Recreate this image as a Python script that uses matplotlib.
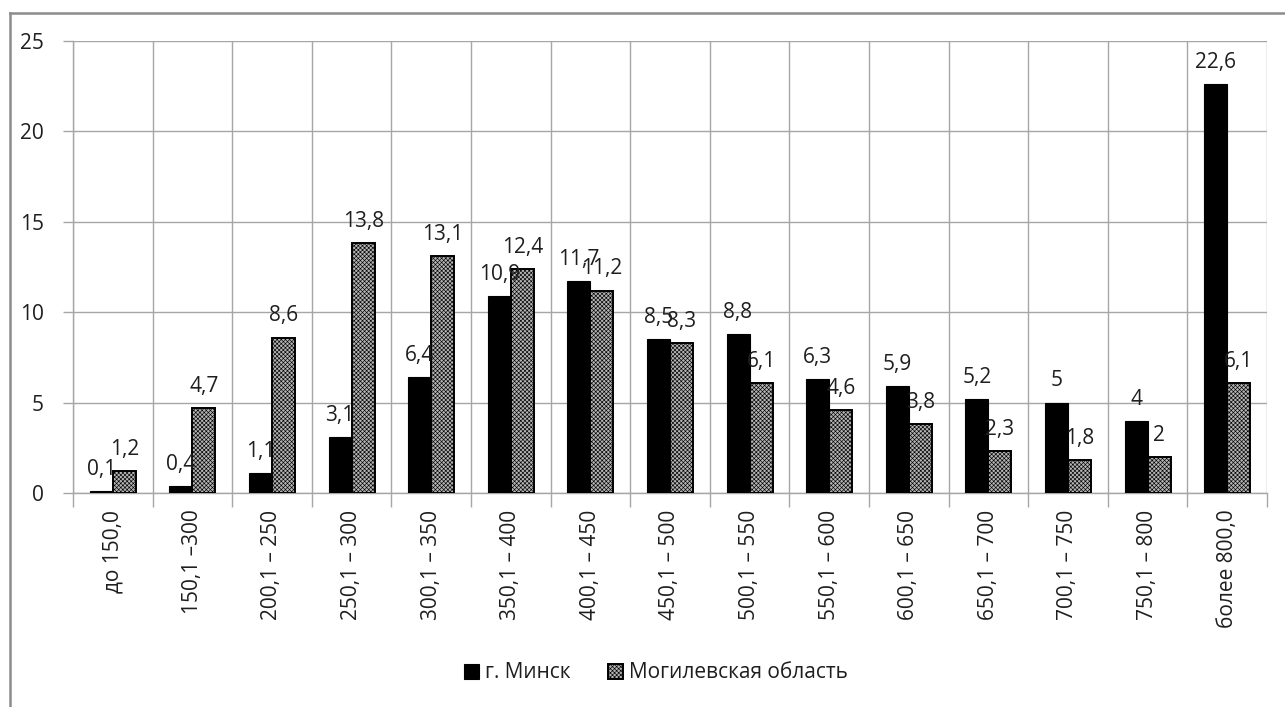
import matplotlib.pyplot as plt
import numpy as np
from matplotlib.lines import Line2D

plt.rcParams['font.family'] = ['Open Sans', 'DejaVu Sans']
plt.rcParams['hatch.linewidth'] = 0.45

categories = ["до 150,0", "150,1 –300", "200,1 – 250", "250,1 – 300", "300,1 – 350",
              "350,1 – 400", "400,1 – 450", "450,1 – 500", "500,1 – 550", "550,1 – 600",
              "600,1 – 650", "650,1 – 700", "700,1 – 750", "750,1 – 800", "более 800,0"]
minsk = [0.1, 0.4, 1.1, 3.1, 6.4, 10.9, 11.7, 8.5, 8.8, 6.3, 5.9, 5.2, 5, 4, 22.6]
mogilev = [1.2, 4.7, 8.6, 13.8, 13.1, 12.4, 11.2, 8.3, 6.1, 4.6, 3.8, 2.3, 1.8, 2, 6.1]
series_names = ["г. Минск", "Могилевская область"]
y_ticks = [0, 5, 10, 15, 20, 25]

GRID = "#a6a6a6"
TXT = "#1e1e1e"
FS = 15


def fmt(v):
    """число с запятой, как в исходной таблице"""
    s = f"{v:g}"
    return s.replace(".", ",")


fig = plt.figure(figsize=(12.85, 7.07), dpi=100)
ax = fig.add_axes([73 / 1285, 1 - 493 / 707, (1267 - 73) / 1285, (493 - 41) / 707])

x = np.arange(len(categories))
w = 0.29
b1 = ax.bar(x - w / 2, minsk, w, color="black", edgecolor="black", linewidth=0.8, zorder=3)
b2 = ax.bar(x + w / 2, mogilev, w, color="#b4b4b4", edgecolor="black", hatch="xxxxxxxx",
            linewidth=1.4, zorder=3)

for bars, vals in ((b1, minsk), (b2, mogilev)):
    for r, v in zip(bars, vals):
        ax.annotate(fmt(v), (r.get_x() + r.get_width() / 2, r.get_height()),
                    xytext=(0, 8), textcoords="offset points", ha="center", va="bottom",
                    fontsize=FS, color=TXT, zorder=4)

ax.set_xlim(-0.5, len(categories) - 0.5)
ax.set_ylim(0, 25)
ax.set_yticks(y_ticks)
ax.set_yticklabels([str(t) for t in y_ticks], fontsize=FS, color=TXT)
ax.set_xticks(x)
ax.set_xticklabels(categories, rotation=90, fontsize=FS, color=TXT)
ax.set_xticks(np.arange(-0.5, len(categories)), minor=True)

ax.tick_params(axis="x", which="major", length=0, pad=12)
ax.tick_params(axis="x", which="minor", length=10, color=GRID, width=1)
ax.tick_params(axis="y", length=7, color=GRID, width=1, pad=14)

ax.grid(axis="y", color=GRID, linewidth=1, zorder=0)
ax.grid(axis="x", which="minor", color=GRID, linewidth=1, zorder=0)
for side in ("top", "right"):
    ax.spines[side].set_visible(False)
for side in ("left", "bottom"):
    ax.spines[side].set_color(GRID)
    ax.spines[side].set_linewidth(1)

# рамка диаграммы (видны только верх и лево)
fig.add_artist(Line2D([10 / 1285, 10 / 1285], [0, 1 - 13 / 707], transform=fig.transFigure,
                      color="#8c8c8c", linewidth=1.8))
fig.add_artist(Line2D([10 / 1285, 1], [1 - 13 / 707, 1 - 13 / 707], transform=fig.transFigure,
                      color="#8c8c8c", linewidth=1.8))

fig.legend([b1, b2], series_names, loc="center", bbox_to_anchor=(656 / 1285, 1 - 673 / 707),
           ncol=2, frameon=False, fontsize=FS, handlelength=0.7, handleheight=0.7,
           handletextpad=0.3, columnspacing=1.8, labelcolor=TXT)

fig.savefig("out.png", dpi=100)
